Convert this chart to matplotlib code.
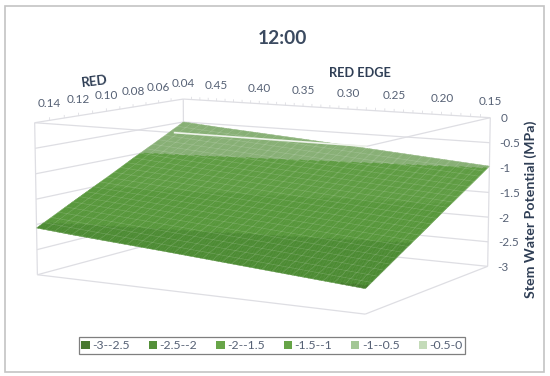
import numpy as np
import matplotlib
matplotlib.use("Agg")
import matplotlib.pyplot as plt
from matplotlib.patches import Patch, Rectangle
from mpl_toolkits.mplot3d import proj3d

W, H = 550, 376
plt.rcParams["font.family"] = ["Lato", "DejaVu Sans"]

# surface values
red_values = [0.04, 0.06, 0.08, 0.10, 0.12, 0.15]
edge_values = [0.49, 0.45, 0.35, 0.25, 0.15]
potential = [
    [-0.50, -0.56, -0.69, -0.83, -0.97],
    [-0.79, -0.84, -0.98, -1.12, -1.26],
    [-1.07, -1.13, -1.26, -1.40, -1.54],
    [-1.36, -1.41, -1.55, -1.69, -1.83],
    [-1.64, -1.70, -1.83, -1.97, -2.11],
    [-2.07, -2.13, -2.26, -2.40, -2.54],
]

red_labels = [0.14, 0.12, 0.10, 0.08, 0.06, 0.04]
edge_labels = [0.45, 0.40, 0.35, 0.30, 0.25, 0.20, 0.15]
z_ticks = [0, -0.5, -1, -1.5, -2, -2.5, -3]
z_labels = ["0", "-0.5", "-1", "-1.5", "-2", "-2.5", "-3"]

band_labels = ["-3--2.5", "-2.5--2", "-2--1.5", "-1.5--1", "-1--0.5", "-0.5-0"]
band_levels = [-3, -2.5, -2, -1.5, -1, -0.5, 0]
legend_colors = ["#48782f", "#55903a", "#68a548", "#66a447", "#a3c795", "#c4dbb9"]
surface_colors = ["#427a29", "#4a8a30", "#559638", "#5c9b3f", "#86af73", "#9dbf8e"]

GRID = "#dedee3"
TICK_TXT = "#566175"
DARK_TXT = "#2f3e55"

red_lo, red_hi = 0.04, 0.15
edge_lo, edge_hi = 0.15, 0.49


def surface_z(red, edge):
    # table lookup, edge_values descends so flip it for np.interp
    table = np.array(potential)
    by_edge = np.array([np.interp(edge, edge_values[::-1], row[::-1]) for row in table])
    return np.interp(red, red_values, by_edge)


fig = plt.figure(figsize=(W / 100, H / 100), dpi=100)
# axes rectangle comes from fitting the box corners to the reference
ax = fig.add_axes([25.9 / W, -58.97 / H, 465.8 / W, 465.8 / H], projection="3d",
                  computed_zorder=False)
ax.set_xlim(edge_hi, edge_lo)
ax.set_ylim(red_hi, red_lo)
ax.set_zlim(-3, 0)
ax.view_init(8.6114, -59.4916)
ax.set_proj_type("persp", focal_length=0.7714)
ax.set_box_aspect((1.3673, 1, 0.5659))
ax.set_axis_off()


def wall(xs, ys, zs, color=GRID, lw=0.9, zorder=1):
    ax.plot(xs, ys, zs, color=color, lw=lw, zorder=zorder, solid_capstyle="butt")


def label3d(x, y, z, s, **kw):
    # flat text placed at the projected 3d point
    px, py, _ = proj3d.proj_transform(x, y, z, ax.get_proj())
    ax.text2D(px, py, s, transform=ax.transData, color=TICK_TXT, fontsize=8.5,
              va="center", zorder=5, **kw)


# back walls, floor and verticals
for z in z_ticks:
    wall([edge_hi, edge_hi], [red_hi, red_lo], [z, z])
    wall([edge_hi, edge_lo], [red_lo, red_lo], [z, z])
wall([edge_hi, edge_lo], [red_hi, red_hi], [-3, -3])
wall([edge_lo, edge_lo], [red_hi, red_lo], [-3, -3])
wall([edge_hi, edge_hi], [red_hi, red_hi], [-3, 0])
wall([edge_hi, edge_hi], [red_lo, red_lo], [-3, 0])
wall([edge_lo, edge_lo], [red_lo, red_lo], [-3, 0])
# front rim of the box
wall([edge_hi, edge_lo], [red_hi, red_hi], [0, 0])
wall([edge_lo, edge_lo], [red_hi, red_lo], [0, 0])

# ticks on the top edges
for r in np.arange(0.05, 0.15, 0.01):
    wall([edge_hi, edge_hi], [r, r], [0, 0.06], lw=0.6)
for e in np.arange(0.16, 0.49, 0.01):
    wall([e, e], [red_lo, red_lo], [0, 0.06], lw=0.6)

# surface, coloured by band
edge_fine = np.linspace(edge_lo, edge_hi, 171)
red_fine = np.linspace(red_lo, red_hi, 111)
X, Y = np.meshgrid(edge_fine, red_fine)
Z = np.array([[surface_z(r, e) for e in edge_fine] for r in red_fine])
mid = (Z[:-1, :-1] + Z[1:, 1:]) / 2
idx = np.clip(np.digitize(mid, band_levels) - 1, 0, 5)
face = np.array([matplotlib.colors.to_rgba(c) for c in surface_colors])[idx]
ax.plot_surface(X, Y, Z, facecolors=face, rstride=1, cstride=1, shade=False,
                linewidth=0.3, zorder=2)

# light mesh lying on the surface
for e in np.arange(edge_lo, edge_hi + 0.001, 0.01):
    ax.plot([e, e], [red_lo, red_hi], [surface_z(red_lo, e), surface_z(red_hi, e)],
            color="white", lw=0.5, alpha=0.16, zorder=3)
for r in np.arange(red_lo, red_hi + 0.001, 0.005):
    ax.plot([edge_lo, edge_hi], [r, r], [surface_z(r, edge_lo), surface_z(r, edge_hi)],
            color="white", lw=0.5, alpha=0.16, zorder=3)

# part of the front rim that crosses the surface
wall([0.339, edge_lo], [red_hi, red_hi], [0, 0], color="#eef3ea", lw=1.2, zorder=4)

# axis labels
for r in red_labels:
    label3d(edge_hi, r, 0.33, f"{r:.2f}", ha="center")
for e in edge_labels:
    label3d(e, red_lo, 0.33, f"{e:.2f}", ha="center")
for z, lab in zip(z_ticks, z_labels):
    label3d(0.14, red_lo, z, lab, ha="left")

fig.text(282 / W, 1 - 38 / H, "12:00", color="#3b4a60", fontsize=13.8,
         fontweight="bold", ha="center", va="center")
fig.text(95 / W, 1 - 81 / H, "RED", color=DARK_TXT, fontsize=9.6, fontweight="bold",
         rotation=7, ha="center", va="center")
fig.text(360 / W, 1 - 73 / H, "RED EDGE", color=DARK_TXT, fontsize=9.2,
         fontweight="bold", ha="center", va="center")
fig.text(531 / W, 1 - 209 / H, "Stem Water Potential (MPa)", color=DARK_TXT,
         fontsize=10.2, fontweight="bold", rotation=90, ha="center", va="center")

handles = [Patch(facecolor=c, edgecolor="none") for c in legend_colors]
leg = fig.legend(handles, band_labels, ncol=6, loc="center", bbox_to_anchor=(272 / W, 1 - 345.5 / H),
                 fontsize=8.8, labelcolor=TICK_TXT, frameon=True, fancybox=False,
                 edgecolor="#7f7f7f", framealpha=1, handlelength=0.68, handleheight=0.68,
                 handletextpad=0.2, columnspacing=1.55, borderpad=0.22, borderaxespad=0)
leg.get_frame().set_linewidth(0.9)

fig.add_artist(Rectangle((5 / W, 1 - 372 / H), 539 / W, 366 / H, transform=fig.transFigure,
                         facecolor="none", edgecolor="#c4c4c4", lw=1.2))

fig.savefig("out.png", dpi=100)
